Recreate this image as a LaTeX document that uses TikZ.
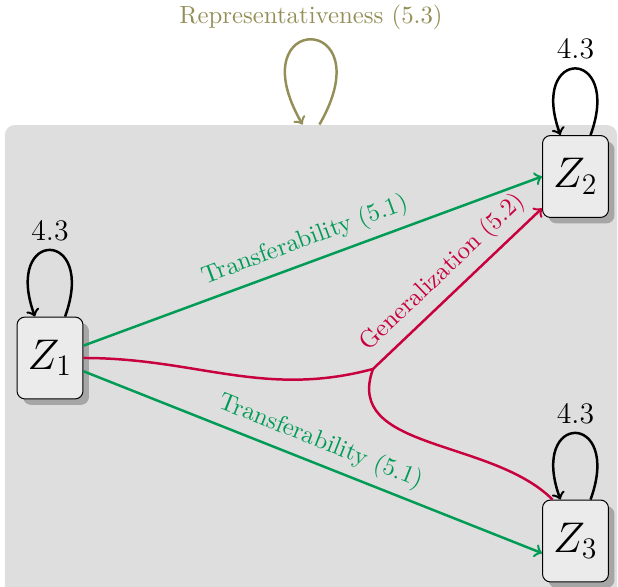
\documentclass[tikz,border=0pt]{standalone}
\usetikzlibrary{shadows}
\definecolor{transf}{RGB}{0,155,85}
\definecolor{gener}{RGB}{200,0,62}
\definecolor{repres}{RGB}{148,143,88}
\begin{document}
\begin{tikzpicture}[x=0.4032pt, y=0.4032pt,
    world/.style={fill=black!13, rounded corners=4pt, minimum width=246.8pt, minimum height=194.3pt, inner sep=0pt},
    zbox/.style={draw, fill=black!8, rounded corners=3.2pt, minimum width=26.6pt, minimum height=33pt, font=\LARGE,
      drop shadow={shadow xshift=2.4pt, shadow yshift=-2.4pt, fill=black, opacity=0.25}},
    edgeline/.style={->, line width=1pt},
    selfloop/.style={edgeline, out=70, in=110, distance=38pt},
    lbl/.style={above, sloped}]
      \useasboundingbox (0,0) rectangle (618,587);
      \node[world] (world) at (311,221) {};
      \node[zbox] (Z1) at (50,229) {$Z_1$};
      \node[zbox] (Z2) at (575.5,410.5) {$Z_2$};
      \node[zbox] (Z3) at (575.5,46) {$Z_3$};
      \coordinate (split) at (373,218);
      % transferability
      \draw[edgeline, transf] (Z1) -- node[lbl] {Transferability (5.1)} (Z2.west);
      \draw[edgeline, transf] (Z1) -- node[lbl] {Transferability (5.1)} (Z3.200);
      % generalization
      \draw[line width=1pt, gener] (Z1.east) to[out=0, in=195] (split);
      \draw[edgeline, gener] (split) -- node[lbl] {Generalization (5.2)} (Z2);
      \draw[line width=1pt, gener] (split) to[out=250, in=135] (Z3.119);
      % self loops
      \draw[selfloop] (Z1) to node[above, font=\large] {4.3} (Z1);
      \draw[selfloop] (Z2) to node[above, font=\large] {4.3} (Z2);
      \draw[selfloop] (Z3) to node[above, font=\large] {4.3} (Z3);
      % representativeness
      \draw[edgeline, repres] ([xshift=3.4pt]world.north) to[out=60, in=120, distance=52.8pt]
        node[above] {Representativeness (5.3)} ([xshift=-3.4pt]world.north);
    \end{tikzpicture}
\end{document}
